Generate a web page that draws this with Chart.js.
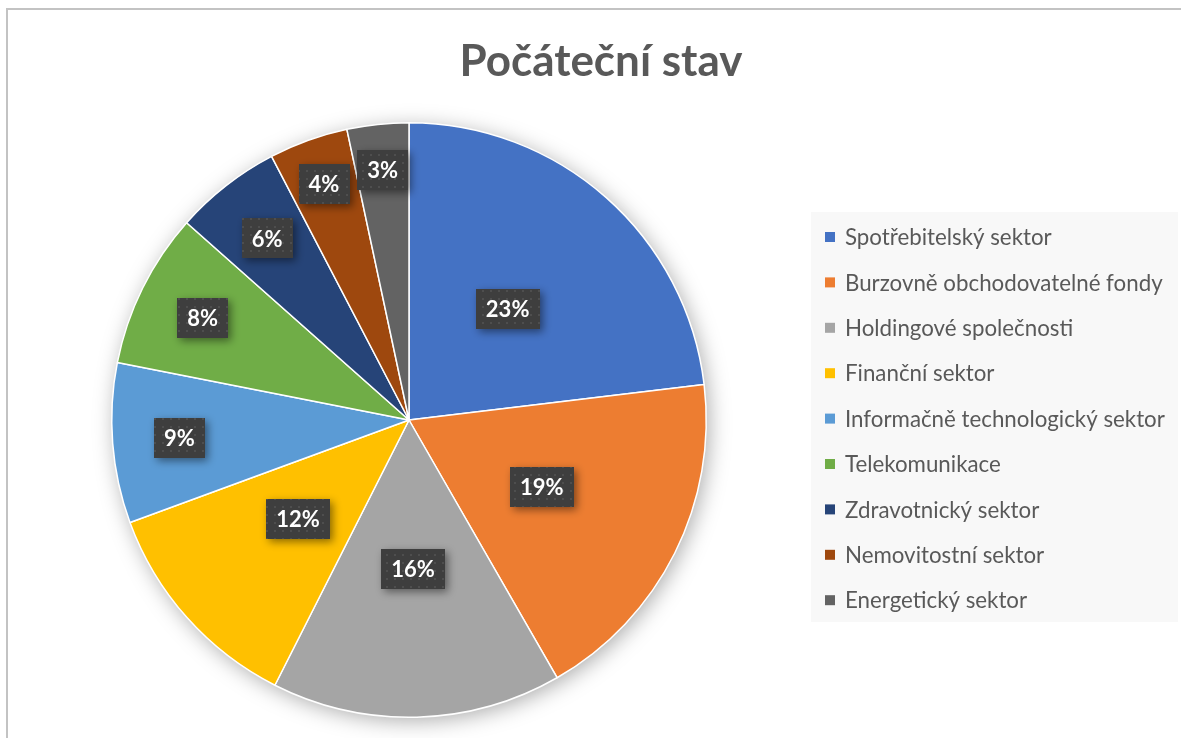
<!DOCTYPE html>
<html>
<head>
<meta charset="utf-8">
<script src="https://cdn.jsdelivr.net/npm/chart.js@4.4.0/dist/chart.umd.min.js"></script>
<style>
    html, body { margin: 0; padding: 0; background: #fff; }
    #wrap { position: relative; width: 1181px; height: 738px; }
    #frame { position: absolute; left: 6px; top: 8px; right: -4px; bottom: -4px; border: 2px solid #c3c3c3; }
    canvas { position: absolute; left: 0; top: 0; }
</style>
</head>
<body>
<div id="wrap">
    <div id="frame"></div>
    <canvas id="pie" width="1181" height="738"></canvas>
</div>
<script>
(function () {
    'use strict';

    const title = 'Počáteční stav';
    const sectors = [
        'Spotřebitelský sektor',
        'Burzovně obchodovatelné fondy',
        'Holdingové společnosti',
        'Finanční sektor',
        'Informačně technologický sektor',
        'Telekomunikace',
        'Zdravotnický sektor',
        'Nemovitostní sektor',
        'Energetický sektor'
    ];
    // shares in % (labels show them rounded)
    const shares = [23.1, 18.6, 15.75, 11.95, 8.7, 8.45, 5.8, 4.3, 3.35];
    const colors = ['#4472C4', '#ED7D31', '#A5A5A5', '#FFC000', '#5B9BD5', '#70AD47', '#264478', '#9E480E', '#636363'];

    const fontFamily = 'Lato, "Open Sans", sans-serif';

    function makePattern(ctx) {
        const p = document.createElement('canvas');
        p.width = 8;
        p.height = 8;
        const pc = p.getContext('2d');
        pc.fillStyle = '#3e3e3e';
        pc.fillRect(0, 0, 8, 8);
        pc.fillStyle = '#4e4e4e';
        pc.fillRect(2, 2, 2, 2);
        return ctx.createPattern(p, 'repeat');
    }

    // soft shadow under the whole pie
    const pieShadow = {
        id: 'pieShadow',
        beforeDatasetsDraw(chart) {
            const arc = chart.getDatasetMeta(0).data[0];
            if (!arc) return;
            const ctx = chart.ctx;
            ctx.save();
            ctx.shadowColor = 'rgba(0,0,0,0.35)';
            ctx.shadowBlur = 22;
            ctx.shadowOffsetX = 3;
            ctx.shadowOffsetY = 4;
            ctx.fillStyle = '#fff';
            ctx.beginPath();
            ctx.arc(arc.x, arc.y, arc.outerRadius - 1, 0, Math.PI * 2);
            ctx.fill();
            ctx.restore();
        }
    };

    // percentage boxes; small slices are pushed out towards the rim
    const sliceLabels = {
        id: 'sliceLabels',
        afterDatasetsDraw(chart) {
            const ctx = chart.ctx;
            const meta = chart.getDatasetMeta(0);
            const total = shares.reduce((a, b) => a + b, 0);
            const pattern = makePattern(ctx);
            ctx.save();
            ctx.font = 'bold 22px ' + fontFamily;
            ctx.textAlign = 'center';
            ctx.textBaseline = 'middle';
            meta.data.forEach((arc, i) => {
                const v = shares[i];
                const mid = (arc.startAngle + arc.endAngle) / 2;
                let f = 0.5;
                if (v < 10) f = v <= 4.5 ? 0.845 : 0.775;
                const x = arc.x + Math.cos(mid) * arc.outerRadius * f;
                const y = arc.y + Math.sin(mid) * arc.outerRadius * f;
                const text = Math.round(v / total * 100) + '%';
                const w = ctx.measureText(text).width + 20;
                const h = 40;
                ctx.save();
                ctx.shadowColor = 'rgba(0,0,0,0.45)';
                ctx.shadowBlur = 8;
                ctx.shadowOffsetX = 3;
                ctx.shadowOffsetY = 3;
                ctx.fillStyle = pattern;
                ctx.fillRect(Math.round(x - w / 2), Math.round(y - h / 2), Math.round(w), h);
                ctx.restore();
                ctx.fillStyle = '#ffffff';
                ctx.fillText(text, x, y + 1);
            });
            ctx.restore();
        }
    };

    // title and legend box on the right
    const decorations = {
        id: 'decorations',
        afterDraw(chart) {
            const ctx = chart.ctx;
            ctx.save();
            ctx.fillStyle = '#595959';
            ctx.font = 'bold 44px ' + fontFamily;
            ctx.textAlign = 'center';
            ctx.textBaseline = 'middle';
            ctx.fillText(title, 601, 62);

            ctx.fillStyle = '#f8f8f8';
            ctx.fillRect(811, 212, 367, 410);

            ctx.font = '22.3px ' + fontFamily;
            ctx.textAlign = 'left';
            sectors.forEach((name, i) => {
                const y = 237 + i * 45.4;
                ctx.fillStyle = colors[i];
                ctx.fillRect(825, y - 5, 10, 10);
                ctx.fillStyle = '#595959';
                ctx.fillText(name, 845, y + 1);
            });
            ctx.restore();
        }
    };

    new Chart(document.getElementById('pie').getContext('2d'), {
        type: 'pie',
        data: {
            labels: sectors,
            datasets: [{
                data: shares,
                backgroundColor: colors,
                borderColor: '#ffffff',
                borderWidth: 1.5
            }]
        },
        options: {
            responsive: false,
            animation: false,
            layout: { padding: { left: 111, right: 474, top: 122, bottom: 20 } },
            plugins: {
                legend: { display: false },
                tooltip: { enabled: false }
            }
        },
        plugins: [pieShadow, sliceLabels, decorations]
    });
})();
</script>
</body>
</html>
